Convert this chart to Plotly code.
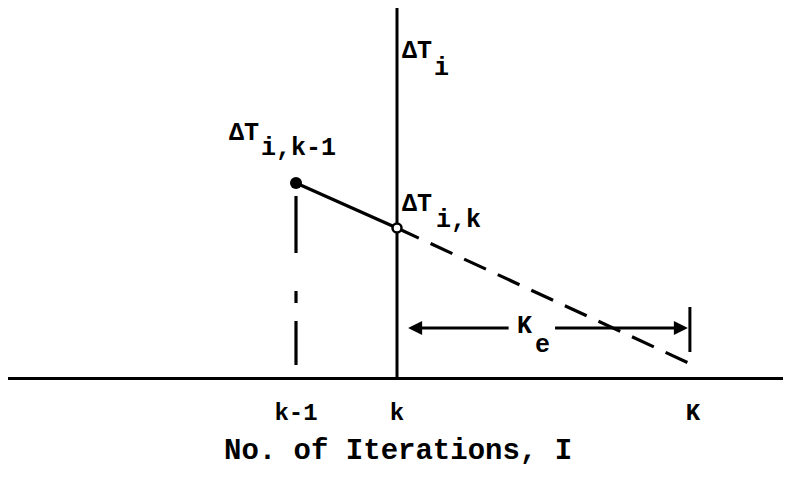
import plotly.graph_objects as go

# ---- data (diagram values, arbitrary units) ----
iter_labels = ["k-1", "k", "K"]
iter_vals = [1.0, 2.0, 4.93]          # k-1, k, K
dT_vals = [3.88, 2.98]                # ΔT_{i,k-1}, ΔT_{i,k}
dT_at_K = 0.24                        # extrapolated ΔT at K
axis_top = 7.38                       # top of ΔT_i axis
km1_dash_range = [3.62, 0.24]         # dashed drop line at k-1
Ke_level = 0.98                       # height of K_e dimension arrow
Ke_tail = [3.12, 3.55]                # arrow tails either side of the K_e label
Ke_tip = [2.11, 4.88]                 # arrow tips
Ke_bar = [1.40, 0.50]                 # end bar at K
x_title = "No. of Iterations, I"
x_range = [-1.8515, 5.8218]
y_range = [0.0, 7.38]

FONT = "Courier New, Liberation Mono, monospace"
TXT = dict(family=FONT, size=25, color="black", weight="bold")
fig = go.Figure()

# vertical ΔT_i axis at k
fig.add_trace(go.Scatter(x=[iter_vals[1], iter_vals[1]], y=[0, axis_top], mode="lines",
                         line=dict(color="black", width=3), hoverinfo="skip"))
# dashed drop line at k-1
fig.add_trace(go.Scatter(x=[iter_vals[0], iter_vals[0]], y=km1_dash_range, mode="lines",
                         line=dict(color="black", width=3.2, dash="57px,38px,12px,18px,47px,60px"),
                         hoverinfo="skip"))
# solid segment from k-1 to k
fig.add_trace(go.Scatter(x=iter_vals[:2], y=dT_vals, mode="lines",
                         line=dict(color="black", width=3.2), hoverinfo="skip"))
# dashed extrapolation from k to K
fig.add_trace(go.Scatter(x=[iter_vals[1], iter_vals[2]], y=[dT_vals[1], dT_at_K], mode="lines",
                         line=dict(color="black", width=3.2, dash="24px,13px"), hoverinfo="skip"))
# end bar at K
fig.add_trace(go.Scatter(x=[Ke_tip[1] + 0.02, Ke_tip[1] + 0.02], y=Ke_bar, mode="lines",
                         line=dict(color="black", width=3), hoverinfo="skip"))
# points
fig.add_trace(go.Scatter(x=[iter_vals[0]], y=[dT_vals[0]], mode="markers",
                         marker=dict(color="black", size=12), hoverinfo="skip"))
fig.add_trace(go.Scatter(x=[iter_vals[1]], y=[dT_vals[1]], mode="markers",
                         marker=dict(color="white", size=9, line=dict(color="black", width=2.5)),
                         hoverinfo="skip"))

# K_e dimension arrows
for tip, tail in zip(Ke_tip, Ke_tail):
    fig.add_annotation(x=tip, y=Ke_level, ax=tail, ay=Ke_level,
                       xref="x", yref="y", axref="x", ayref="y", text="", showarrow=True,
                       arrowhead=2, arrowsize=1.0, arrowwidth=2.8, arrowcolor="black")

def label(x, y, text, dx, dy):
    fig.add_annotation(x=x, y=y, text=text, showarrow=False, xref="x", yref="y",
                       xanchor="left", yanchor="middle", xshift=dx, yshift=dy, font=TXT)

# K_e label
label(iter_vals[1], Ke_level, "K", 118, 2)
label(iter_vals[1], Ke_level, "e", 136, -17)
# ΔT_i
label(iter_vals[1], axis_top, "ΔT", 3, -43)
label(iter_vals[1], axis_top, "i", 35, -60)
# ΔT_{i,k-1}
label(iter_vals[0], dT_vals[0], "ΔT", -69, 50)
label(iter_vals[0], dT_vals[0], "i,k-1", -37, 35)
# ΔT_{i,k}
label(iter_vals[1], dT_vals[1], "ΔT", 3, 24)
label(iter_vals[1], dT_vals[1], "i,k", 37, 8)

# x-axis title
fig.add_annotation(x=0.503, y=0, xref="paper", yref="paper", text=x_title, showarrow=False,
                   xanchor="center", yanchor="middle", yshift=-74, borderpad=0,
                   font=dict(family=FONT, size=29, color="black", weight="bold"))

fig.update_layout(
    width=775, height=461,
    margin=dict(l=0, r=0, t=0, b=92),
    plot_bgcolor="white", paper_bgcolor="white",
    showlegend=False,
    xaxis=dict(range=x_range, showgrid=False, zeroline=False, showline=True,
               linecolor="black", linewidth=3, tickvals=iter_vals, ticktext=iter_labels,
               ticks="", ticklabelstandoff=11, automargin=False,
               tickfont=dict(family=FONT, size=24, color="black", weight="bold")),
    yaxis=dict(range=y_range, visible=False, automargin=False),
)

fig.write_html("out.html")
